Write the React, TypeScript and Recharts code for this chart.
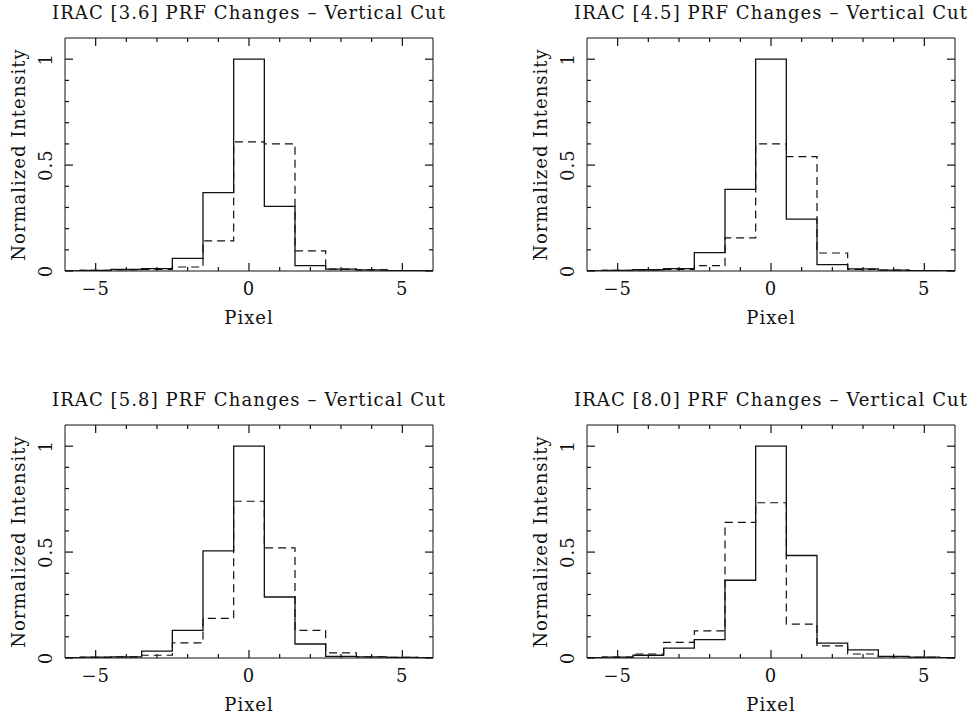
import React from "react";
import { LineChart, Line, XAxis, YAxis } from "recharts";

// pixel offsets (bin centres) shared by all four panels
const pixels = [-6, -5, -4, -3, -2, -1, 0, 1, 2, 3, 4, 5, 6];

const titles = [
  "IRAC [3.6] PRF Changes – Vertical Cut",
  "IRAC [4.5] PRF Changes – Vertical Cut",
  "IRAC [5.8] PRF Changes – Vertical Cut",
  "IRAC [8.0] PRF Changes – Vertical Cut",
];

// solid histogram, one array per panel
const solid36 = [0.001, 0.003, 0.008, 0.011, 0.06, 0.37, 1, 0.305, 0.025, 0.009, 0.005, 0.002, 0.001];
const solid45 = [0.001, 0.003, 0.006, 0.011, 0.087, 0.385, 1, 0.245, 0.03, 0.01, 0.004, 0.002, 0.001];
const solid58 = [0.002, 0.004, 0.005, 0.032, 0.13, 0.506, 1, 0.288, 0.066, 0.008, 0.005, 0.003, 0.002];
const solid80 = [0.002, 0.004, 0.013, 0.047, 0.087, 0.367, 1, 0.484, 0.07, 0.038, 0.008, 0.004, 0.002];

// dashed histogram
const dashed36 = [0.001, 0.003, 0.005, 0.008, 0.019, 0.142, 0.61, 0.6, 0.095, 0.009, 0.005, 0.002, 0.001];
const dashed45 = [0.001, 0.003, 0.005, 0.008, 0.025, 0.156, 0.6, 0.54, 0.085, 0.008, 0.004, 0.002, 0.001];
const dashed58 = [0.002, 0.003, 0.005, 0.013, 0.071, 0.187, 0.74, 0.52, 0.13, 0.024, 0.006, 0.003, 0.002];
const dashed80 = [0.002, 0.004, 0.019, 0.074, 0.128, 0.64, 0.733, 0.16, 0.057, 0.019, 0.006, 0.003, 0.002];

const xTicks = [-5, -4, -3, -2, -1, 0, 1, 2, 3, 4, 5];
const yTicks = [0, 0.1, 0.2, 0.3, 0.4, 0.5, 0.6, 0.7, 0.8, 0.9, 1];
const yLabels: Record<string, string> = { "0": "0", "0.5": "0.5", "1": "1" };

const FONT = "DejaVu Serif";
const INK = "#111";
const SPACING = 1;

const fmtX = (v: number) => (v < 0 ? `−${-v}` : `${v}`);
const yKey = (v: number) => String(Math.round(v * 10) / 10);

function BottomTick(props: any) {
  const { x, y, payload } = props;
  const v = payload.value;
  const len = v % 5 === 0 ? 8 : 4;
  return (
    <g>
      <rect x={x - 0.6} y={y - len} width={1.2} height={len} fill={INK} />
      {v % 5 === 0 && (
        <text x={x} y={y + 24} textAnchor="middle" fontFamily={FONT} fontSize={18} letterSpacing={SPACING} fill={INK}>
          {fmtX(v)}
        </text>
      )}
    </g>
  );
}

function TopTick(props: any) {
  const { x, y, payload } = props;
  const len = payload.value % 5 === 0 ? 8 : 4;
  return <rect x={x - 0.6} y={y} width={1.2} height={len} fill={INK} />;
}

function LeftTick(props: any) {
  const { x, y, payload } = props;
  const label = yLabels[yKey(payload.value)];
  const len = label ? 8 : 4;
  return (
    <g>
      <rect x={x} y={y - 0.6} width={len} height={1.2} fill={INK} />
      {label && (
        <text
          x={x - 13}
          y={y}
          textAnchor="middle"
          fontFamily={FONT}
          fontSize={18}
          letterSpacing={SPACING}
          fill={INK}
          transform={`rotate(-90, ${x - 13}, ${y})`}
        >
          {label}
        </text>
      )}
    </g>
  );
}

function RightTick(props: any) {
  const { x, y, payload } = props;
  const len = yLabels[yKey(payload.value)] ? 8 : 4;
  return <rect x={x - len} y={y - 0.6} width={len} height={1.2} fill={INK} />;
}

function Panel({ title, solid, dashed }: { title: string; solid: number[]; dashed: number[] }) {
  const data = pixels.map((p, i) => ({ pixel: p, solid: solid[i], dashed: dashed[i] }));
  return (
    <LineChart width={470} height={340} data={data} margin={{ top: 37, right: 36, bottom: 9, left: 0 }}>
      <XAxis
        xAxisId="b"
        dataKey="pixel"
        type="number"
        domain={[-6, 6]}
        ticks={xTicks}
        interval={0}
        height={60}
        tickSize={0}
        tickMargin={0}
        tickLine={false}
        axisLine={{ stroke: INK }}
        tick={<BottomTick />}
        label={{
          content: (p: any) => {
            const vb = p.viewBox;
            return (
              <text x={vb.x + vb.width / 2} y={vb.y + 53} textAnchor="middle" fontFamily={FONT} fontSize={18} letterSpacing={SPACING} fill={INK}>
                Pixel
              </text>
            );
          },
        }}
      />
      <XAxis
        xAxisId="t"
        dataKey="pixel"
        orientation="top"
        type="number"
        domain={[-6, 6]}
        ticks={xTicks}
        interval={0}
        height={1}
        tickSize={0}
        tickMargin={0}
        tickLine={false}
        axisLine={{ stroke: INK }}
        tick={<TopTick />}
        label={{
          content: (p: any) => {
            const vb = p.viewBox;
            return (
              <text x={vb.x + vb.width / 2} y={vb.y + vb.height - 19} textAnchor="middle" fontFamily={FONT} fontSize={18} letterSpacing={1.1} fill={INK}>
                {title}
              </text>
            );
          },
        }}
      />
      <YAxis
        yAxisId="l"
        type="number"
        domain={[0, 1.1]}
        ticks={yTicks}
        interval={0}
        width={65}
        tickSize={0}
        tickMargin={0}
        tickLine={false}
        axisLine={{ stroke: INK }}
        tick={<LeftTick />}
        allowDataOverflow
        label={{
          content: (p: any) => {
            const vb = p.viewBox;
            const cx = vb.x + vb.width - 40;
            const cy = vb.y + vb.height / 2;
            return (
              <text x={cx} y={cy} textAnchor="middle" fontFamily={FONT} fontSize={18} letterSpacing={SPACING} fill={INK} transform={`rotate(-90, ${cx}, ${cy})`}>
                Normalized Intensity
              </text>
            );
          },
        }}
      />
      <YAxis
        yAxisId="r"
        orientation="right"
        type="number"
        domain={[0, 1.1]}
        ticks={yTicks}
        interval={0}
        width={1}
        tickSize={0}
        tickMargin={0}
        tickLine={false}
        axisLine={{ stroke: INK }}
        tick={<RightTick />}
        allowDataOverflow
      />
      {/* invisible series so the top and right frame axes get drawn */}
      <Line
        xAxisId="t"
        yAxisId="r"
        dataKey="solid"
        type="step"
        stroke="none"
        dot={false}
        activeDot={false}
        isAnimationActive={false}
      />
      <Line
        xAxisId="b"
        yAxisId="l"
        dataKey="dashed"
        type="step"
        stroke={INK}
        strokeWidth={1.2}
        strokeDasharray="8 5"
        dot={false}
        isAnimationActive={false}
      />
      <Line
        xAxisId="b"
        yAxisId="l"
        dataKey="solid"
        type="step"
        stroke={INK}
        strokeWidth={1.3}
        dot={false}
        isAnimationActive={false}
      />
    </LineChart>
  );
}

export default function App() {
  const place = (left: number, top: number): React.CSSProperties => ({ position: "absolute", left, top });
  return (
    <div style={{ position: "absolute", left: 0, top: 0, width: 972, height: 714, background: "#fff" }}>
      <div style={place(0, 0)}>
        <Panel title={titles[0]} solid={solid36} dashed={dashed36} />
      </div>
      <div style={place(522, 0)}>
        <Panel title={titles[1]} solid={solid45} dashed={dashed45} />
      </div>
      <div style={place(0, 387)}>
        <Panel title={titles[2]} solid={solid58} dashed={dashed58} />
      </div>
      <div style={place(522, 387)}>
        <Panel title={titles[3]} solid={solid80} dashed={dashed80} />
      </div>
    </div>
  );
}
